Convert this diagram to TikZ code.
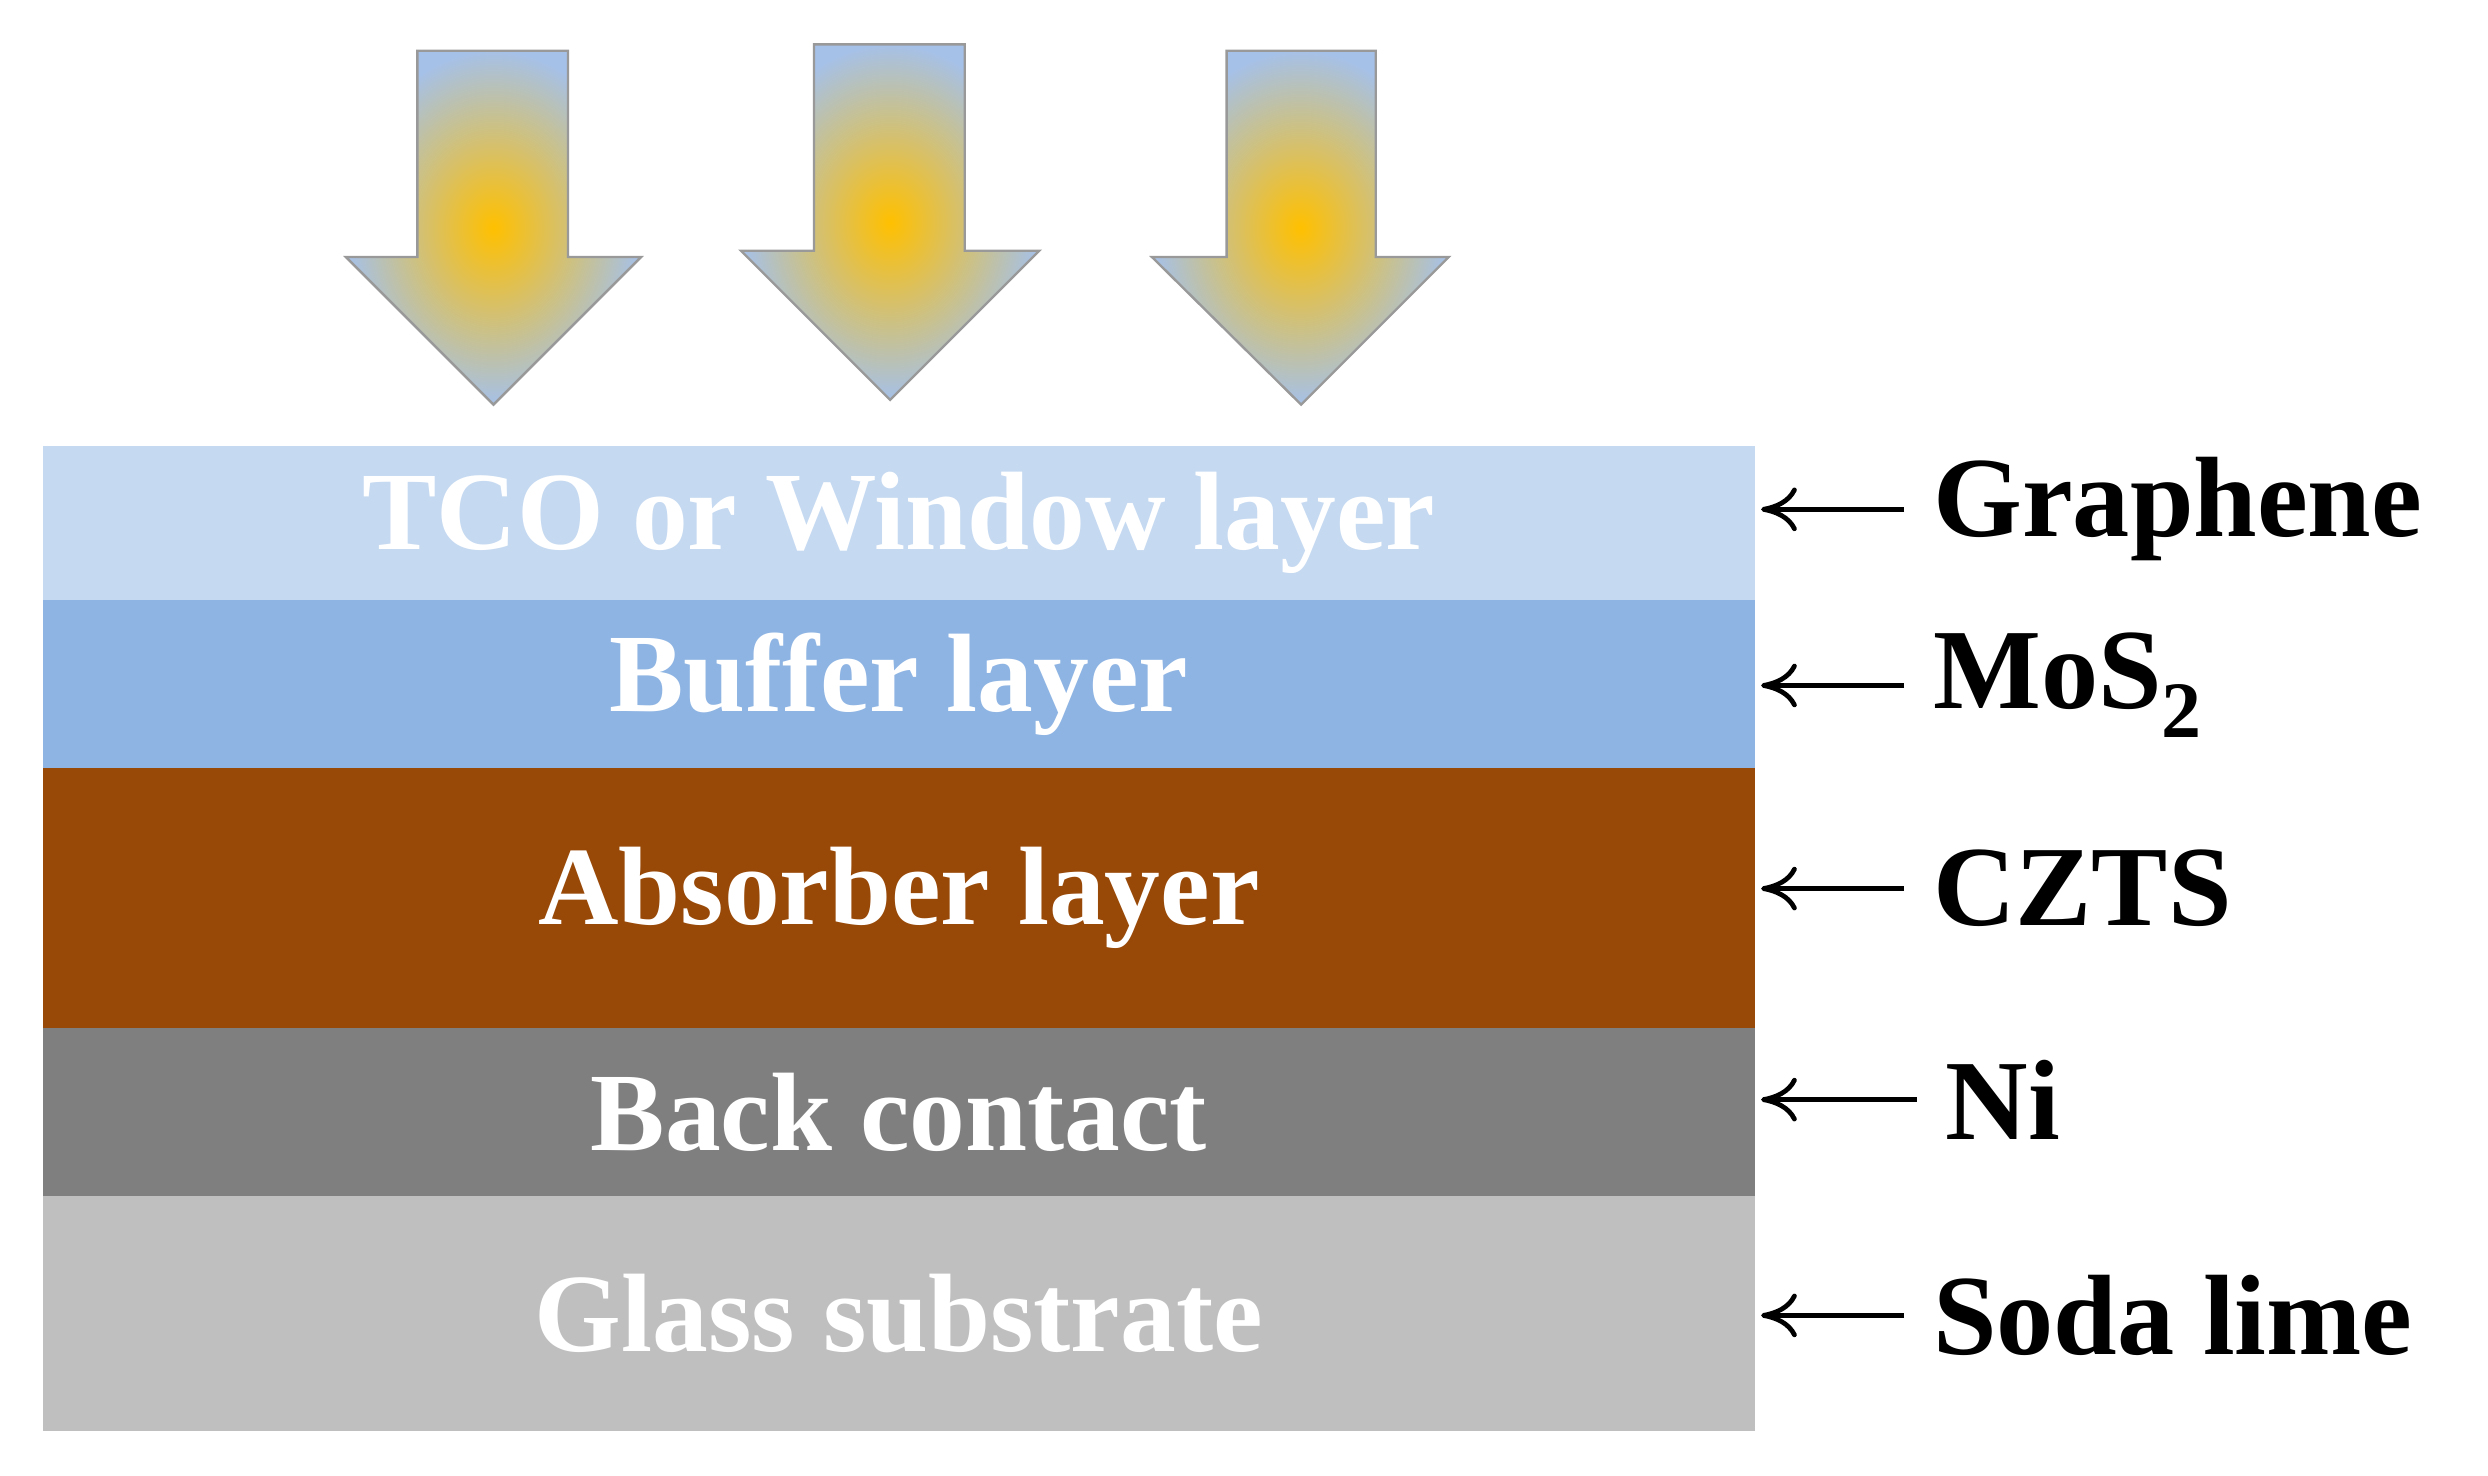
\documentclass[tikz,border=0pt]{standalone}
\usepackage{fontspec}
\setmainfont{Liberation Serif}
\usetikzlibrary{arrows.meta}
\definecolor{tcoC}{HTML}{C5D9F1}
\definecolor{bufC}{HTML}{8EB4E3}
\definecolor{absC}{HTML}{984807}
\definecolor{backC}{HTML}{7F7F7F}
\definecolor{glassC}{HTML}{BFBFBF}
\definecolor{sunC}{HTML}{FFC000}
\definecolor{skyC}{HTML}{A6C1E8}
\begin{document}
\begin{tikzpicture}[x=0.02cm,y=-0.02cm,
  layer/.style={inner sep=0,outer sep=0,minimum width=21.58cm,text=white,font=\fontsize{40}{44}\selectfont\bfseries},
  lab/.style={anchor=west,inner sep=0,font=\fontsize{41}{45}\selectfont\bfseries},
  ptr/.style={line width=0.06cm,-{To[length=0.45cm,width=0.55cm]}},
  sun/.style={draw=gray!80,line width=0.03cm,inner color=sunC,outer color=skyC}]
\useasboundingbox (0,0) rectangle (1568,930);
% sun arrows
\shade[sun] (263,32) -- (358,32) -- (358,162) -- (404,162) -- (311,255) -- (218,162) -- (263,162) -- cycle;
\shade[sun] (513,28) -- (608,28) -- (608,158) -- (655,158) -- (561,252) -- (467,158) -- (513,158) -- cycle;
\shade[sun] (773,32) -- (867,32) -- (867,162) -- (913,162) -- (820,255) -- (726,162) -- (773,162) -- cycle;
% layers
\node (tco) [layer,fill=tcoC,minimum height=1.94cm] at (566.5,329.5) {TCO or Window layer};
\node (buf) [layer,fill=bufC,minimum height=2.12cm] at (566.5,431) {Buffer layer};
\node (abs) [layer,fill=absC,minimum height=3.28cm] at (566.5,566) {Absorber layer};
\node (back) [layer,fill=backC,minimum height=2.12cm] at (566.5,701) {Back contact};
\node (glass) [layer,fill=glassC,minimum height=2.96cm] at (566.5,828) {Glass substrate};
% labels
\node (g) [lab] at (1218,321) {Graphene};
\node (m) [lab] at (1218,432) {MoS\textsubscript{2}};
\node (c) [lab] at (1218,560) {CZTS};
\node (n) [lab] at (1226,693) {Ni};
\node (s) [lab] at (1218,829) {Soda lime};
\foreach \t in {g,m,c,n,s}
  \draw[ptr] ([xshift=-0.36cm]\t.west) -- ([xshift=0.08cm]tco.east |- \t.west);
\end{tikzpicture}
\end{document}
